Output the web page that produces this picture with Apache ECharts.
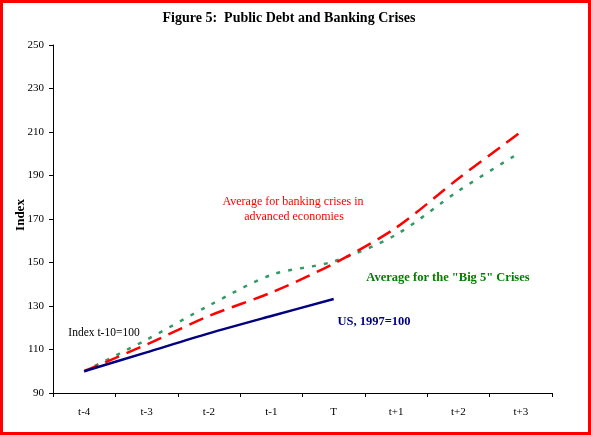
<!DOCTYPE html>
<html>
<head>
<meta charset="utf-8">
<script src="https://cdn.jsdelivr.net/npm/echarts@6/dist/echarts.min.js"></script>
<style>
    html, body { margin: 0; padding: 0; background: #fff; }
    #chart_container { position: absolute; left: 0; top: 0; width: 591px; height: 435px; }
    #frame { position: absolute; left: 0; top: 0; width: 591px; height: 435px; box-sizing: border-box;
             border: 3px solid #ff0000; pointer-events: none; }
</style>
</head>
<body>
<div id="chart_container"></div>
<div id="frame"></div>
<script>
// values (index, t-10 = 100)
const periods = ['t-4', 't-3', 't-2', 't-1', 'T', 't+1', 't+2', 't+3'];
const banking_avg = [100, 112.3, 125.4, 136.2, 149.5, 166, 188.6, 210];
const big5_avg = [100, 114.5, 130.2, 144.3, 150.5, 162.8, 182.9, 200.8];
const us_index = [100, 108.7, 117.4, 125.4, 133.2, null, null, null];
const y_ticks = {min: 90, max: 250, step: 20};

const serif = '"Liberation Serif", "DejaVu Serif", serif';

let chart = echarts.init(document.getElementById('chart_container'), null, {renderer: 'canvas'});

function label(text, x, y, color, size, weight) {
    return {
        type: 'text', x: x, y: y,
        style: {
            text: text, fill: color, font: (weight || 'normal') + ' ' + size + 'px ' + serif,
            textAlign: 'center', textVerticalAlign: 'middle'
        }
    };
}

let chart_options = {
    animation: false,
    backgroundColor: '#ffffff',
    grid: {left: 53, right: 39, top: 45, bottom: 42},
    xAxis: {
        type: 'category',
        data: periods,
        boundaryGap: true,
        axisLine: {lineStyle: {color: '#000', width: 1}},
        axisTick: {show: true, length: 4, lineStyle: {color: '#000'}},
        axisLabel: {color: '#000', fontFamily: serif, fontSize: 11, margin: 14}
    },
    yAxis: {
        type: 'value',
        min: y_ticks.min,
        max: y_ticks.max,
        interval: y_ticks.step,
        splitLine: {show: false},
        axisLine: {show: true, lineStyle: {color: '#000', width: 1}},
        axisTick: {show: true, length: 4, lineStyle: {color: '#000'}},
        axisLabel: {color: '#000', fontFamily: serif, fontSize: 11, margin: 9}
    },
    series: [
        {
            name: 'Average for the "Big 5" Crises',
            type: 'line',
            data: big5_avg,
            smooth: 0.3,
            showSymbol: false,
            lineStyle: {color: '#339966', width: 2.5, type: [4, 8]}
        },
        {
            name: 'Average for banking crises in advanced economies',
            type: 'line',
            data: banking_avg,
            smooth: 0.3,
            showSymbol: false,
            lineStyle: {color: '#ff0000', width: 2.5, type: [15, 8]}
        },
        {
            name: 'US, 1997=100',
            type: 'line',
            data: us_index,
            smooth: 0.3,
            showSymbol: false,
            lineStyle: {color: '#000080', width: 2.5}
        }
    ],
    graphic: [
        label('Figure 5:  Public Debt and Banking Crises', 289, 18, '#000', 14, 'bold'),
        label('Average for banking crises in', 293, 202, '#ff0000', 12),
        label('advanced economies', 294, 217, '#ff0000', 12),
        label('Average for the "Big 5" Crises', 448, 278, '#008000', 12.5, 'bold'),
        label('US, 1997=100', 374, 322, '#000080', 12.5, 'bold'),
        label('Index t-10=100', 104, 333, '#000', 11.5),
        Object.assign(label('Index', 21, 215, '#000', 13, 'bold'), {rotation: Math.PI / 2})
    ]
};

chart.setOption(chart_options);
</script>
</body>
</html>
